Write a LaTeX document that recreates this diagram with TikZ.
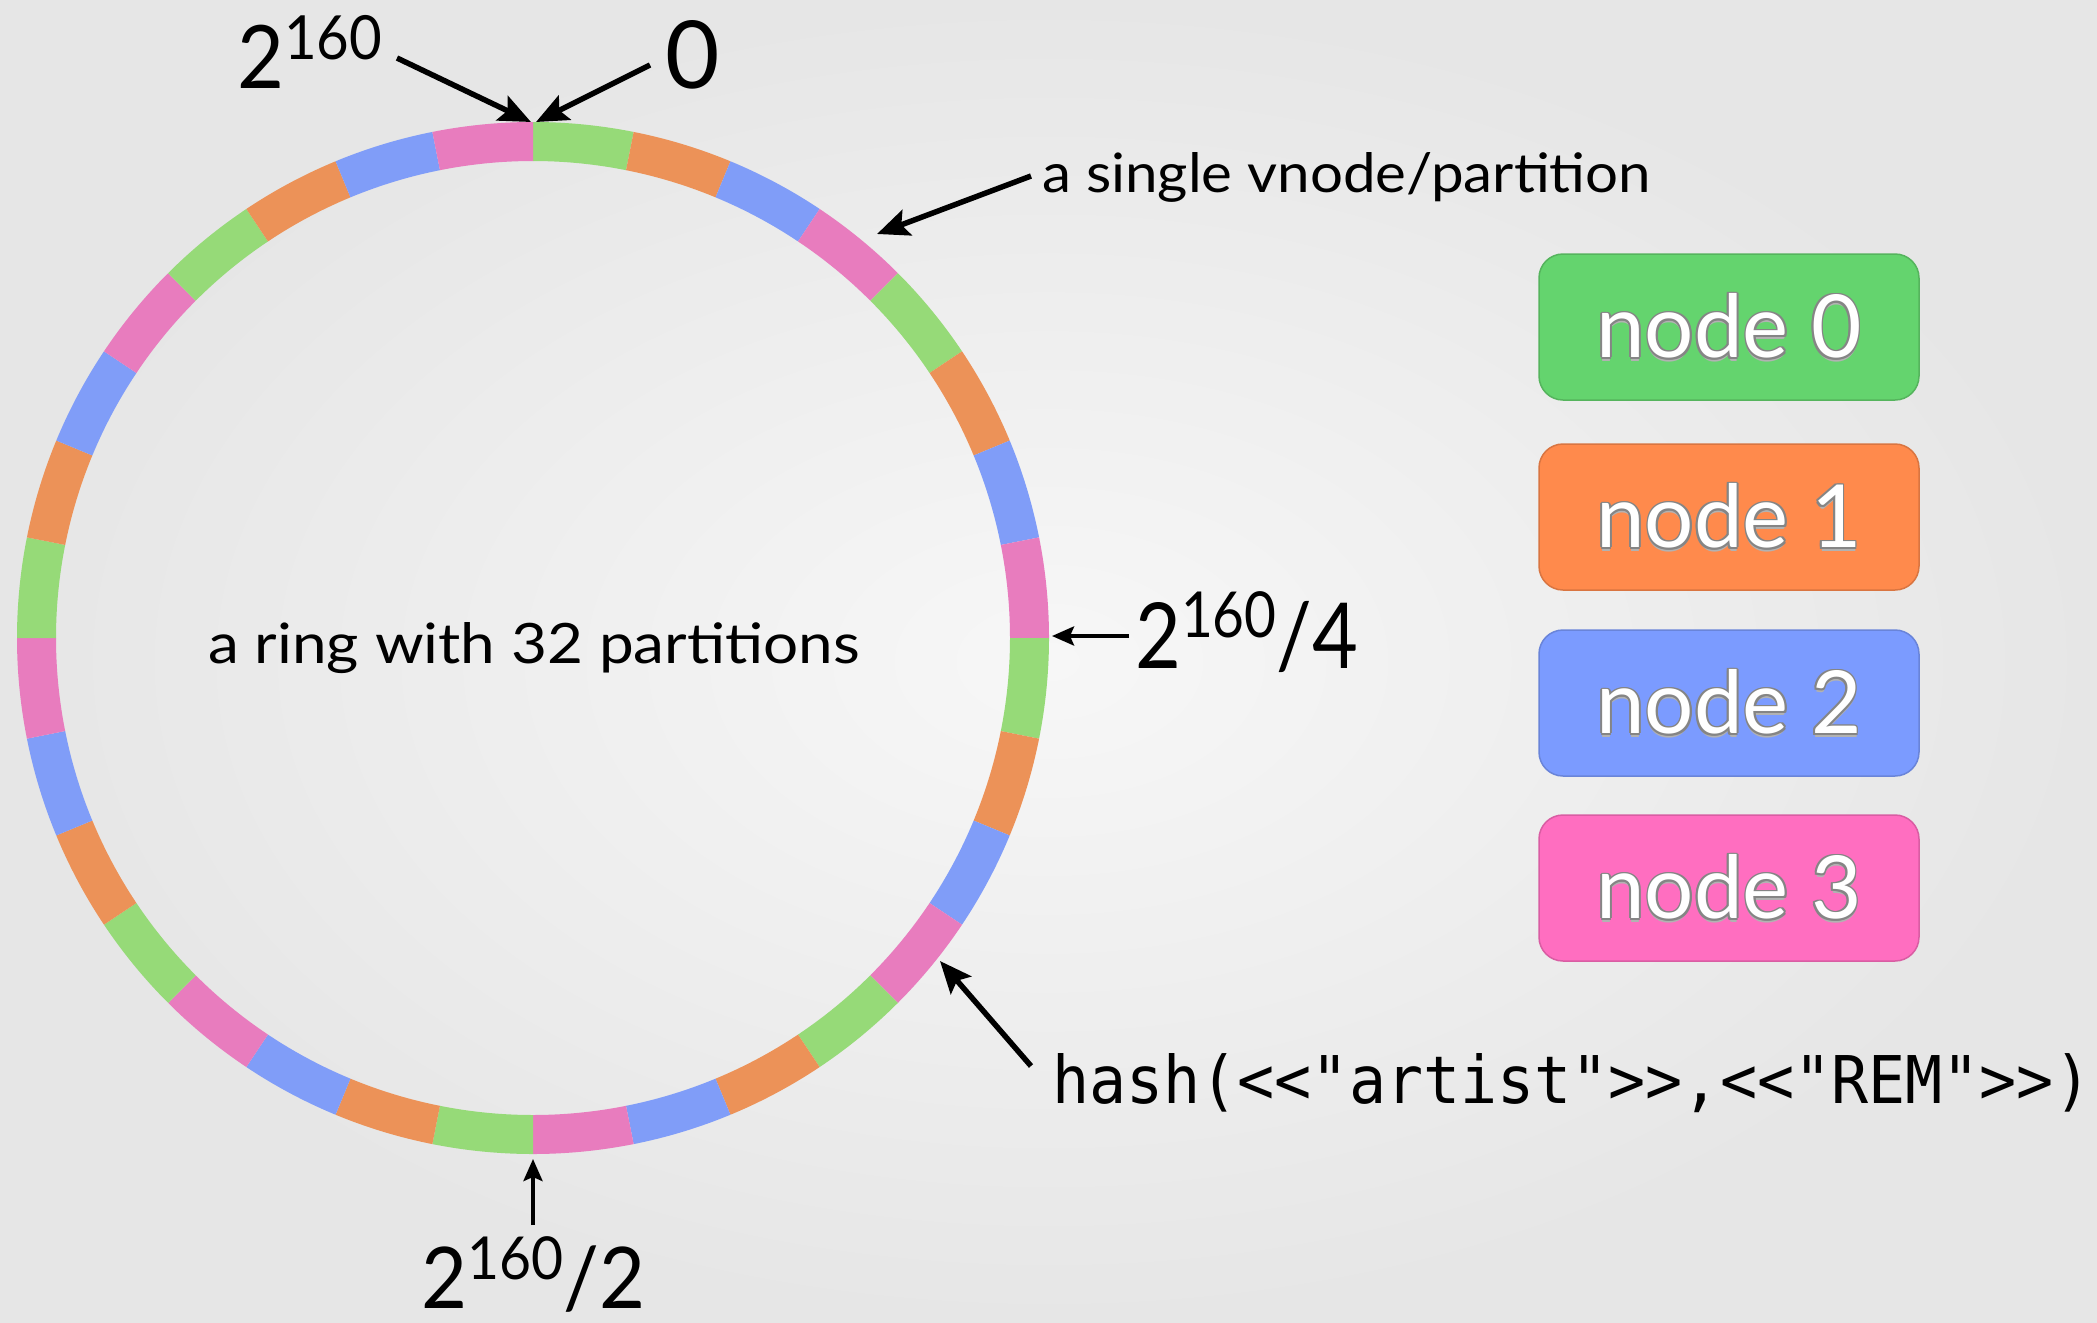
\documentclass[tikz,border=0pt]{standalone}
\usepackage{fontspec}
\setmainfont{Lato}
\setmonofont{DejaVu Sans Mono}
\usetikzlibrary{arrows.meta,calc}
\definecolor{rgreen}{HTML}{96DA78}
\definecolor{rorange}{HTML}{EC9258}
\definecolor{rblue}{HTML}{809DF8}
\definecolor{rpink}{HTML}{E87CBE}
\definecolor{ngreen}{HTML}{64D46E}
\definecolor{norange}{HTML}{FF8A4C}
\definecolor{nblue}{HTML}{7B9BFF}
\definecolor{npink}{HTML}{FF6EC0}
\definecolor{bgin}{HTML}{F7F7F7}
\definecolor{bgout}{HTML}{E6E6E6}
\definecolor{edgegray}{HTML}{858585}
\newcommand\outlinetext[1]{%
  \makebox[0pt][l]{\raisebox{-3.5pt}{\textcolor{black!30}{#1}}}%
  \makebox[0pt][l]{\hspace*{-1.8pt}\textcolor{edgegray}{#1}}%
  \makebox[0pt][l]{\hspace*{1.8pt}\textcolor{edgegray}{#1}}%
  \makebox[0pt][l]{\raisebox{1.8pt}{\textcolor{edgegray}{#1}}}%
  \makebox[0pt][l]{\raisebox{-1.8pt}{\textcolor{edgegray}{#1}}}%
  \makebox[0pt][l]{\hspace*{1.3pt}\raisebox{1.3pt}{\textcolor{edgegray}{#1}}}%
  \makebox[0pt][l]{\hspace*{-1.3pt}\raisebox{1.3pt}{\textcolor{edgegray}{#1}}}%
  \makebox[0pt][l]{\hspace*{1.3pt}\raisebox{-1.3pt}{\textcolor{edgegray}{#1}}}%
  \makebox[0pt][l]{\hspace*{-1.3pt}\raisebox{-1.3pt}{\textcolor{edgegray}{#1}}}%
  \textcolor{white}{#1}}
\newcommand\powtwo{2\raisebox{0.33em}{\fontsize{64}{64}\selectfont 160}}
\tikzset{
  ringlabel/.style={inner sep=0pt, anchor=base west, font=\fontsize{92}{92}\selectfont},
  pointer/.style={line width=5.5pt, -{Stealth[length=32pt,width=27pt,inset=6pt]}},
  thinpointer/.style={line width=4pt, -{Stealth[length=22pt,width=19pt,inset=4pt]}},
  legendbox/.style={rounded corners=24pt, minimum width=380pt, minimum height=146pt,
    inner sep=0pt, font=\fontsize{87}{90}\selectfont, line width=1.5pt},
}
\begin{document}
\begin{tikzpicture}[x=1pt,y=1pt]
\useasboundingbox (0,0) rectangle (2097,-1323);
\shade[inner color=bgin, outer color=bgout] (0,0) rectangle (2097,-1323);
\coordinate (C) at (533,-638);
% ring
\foreach \i in {0,...,31}{
  \pgfmathsetmacro\aa{90-11.25*\i}
  \pgfmathsetmacro\ab{90-11.25*(\i+1)}
  \pgfmathtruncatemacro\m{mod(\i,4)}
  \ifcase\m \def\cc{rgreen}\or \def\cc{rorange}\or \def\cc{rblue}\or \def\cc{rpink}\fi
  \fill[\cc] ($(C)+(\aa:516)$) arc[start angle=\aa, end angle=\ab, radius=516]
    -- ($(C)+(\ab:477)$) arc[start angle=\ab, end angle=\aa, radius=477] -- cycle;
}
% labels
\node[ringlabel] (tmax) at (237,-88) {\resizebox{145pt}{73pt}{\powtwo}};
\node[ringlabel] (tzero) at (665,-88) {\resizebox{!}{68pt}{0}};
\node[ringlabel] (tvnode) at (1042,-192) {\resizebox{609pt}{40pt}{a single vnode/partition}};
\node[ringlabel] (tring) at (208,-663) {\resizebox{652pt}{41pt}{a ring with 32 partitions}};
\node[ringlabel] (tquarter) at (1135,-668) {\resizebox{223pt}{76pt}{\powtwo/4}};
\node[ringlabel] (thalf) at (421,-1308) {\resizebox{224pt}{71pt}{\powtwo/2}};
\node[ringlabel] (thash) at (1052,-1103) {\resizebox{1039pt}{50pt}{\ttfamily hash(<{}<"artist">{}>,<{}<"REM">{}>)}};
% pointer end points
\coordinate (maxtail) at (397,-58);
\coordinate (maxtip) at (531,-122);
\coordinate (zerotail) at (650,-65);
\coordinate (zerotip) at (536,-122);
\coordinate (vtail) at (1031,-176);
\coordinate (vtip) at (877,-234);
\coordinate (qtail) at (1129,-636);
\coordinate (qtip) at (1052,-636);
\coordinate (htail) at (533,-1225);
\coordinate (htip) at (533,-1159);
\coordinate (hashtail) at (1031,-1066);
\coordinate (hashtip) at (940,-961);
\draw[pointer] (maxtail) -- (maxtip);
\draw[pointer] (zerotail) -- (zerotip);
\draw[pointer] (vtail) -- (vtip);
\draw[thinpointer] (qtail) -- (qtip);
\draw[thinpointer] (htail) -- (htip);
\draw[pointer] (hashtail) -- (hashtip);
% legend
\node[legendbox, fill=ngreen, draw=ngreen!85!black] (n0) at (1729,-327) {\outlinetext{node 0}};
\node[legendbox, fill=norange, draw=norange!85!black] (n1) at (1729,-517) {\outlinetext{node 1}};
\node[legendbox, fill=nblue, draw=nblue!85!black] (n2) at (1729,-703) {\outlinetext{node 2}};
\node[legendbox, fill=npink, draw=npink!85!black] (n3) at (1729,-888) {\outlinetext{node 3}};
\end{tikzpicture}
\end{document}
